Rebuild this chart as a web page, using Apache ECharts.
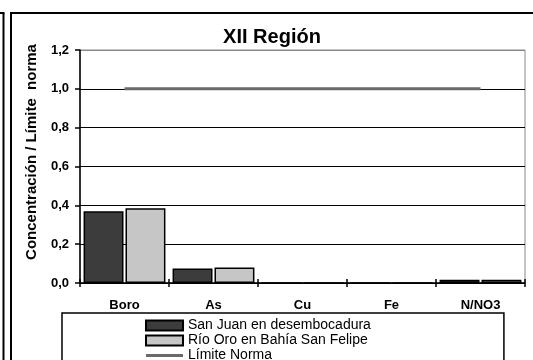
<!DOCTYPE html>
<html><head><meta charset="utf-8">
<script src="https://cdn.jsdelivr.net/npm/echarts@6/dist/echarts.min.js"></script>
<style>html,body{margin:0;padding:0;background:#fff}#c{width:533px;height:360px}</style>
</head><body><div id="c"></div>
<script>
const categories = ['Boro', 'As', 'Cu', 'Fe', 'N/NO3'];
const sanJuan = [0.37, 0.075, 0, 0, 0.017];
const rioOro = [0.385, 0.08, 0, 0, 0.017];
const limite = [1, 1, 1, 1, 1];
const seriesNames = ['San Juan en desembocadura', 'Río Oro en Bahía San Felipe', 'Límite Norma'];
const titleText = 'XII Región';
const yName = 'Concentración / Límite  norma';

const chart = echarts.init(document.getElementById('c'), null, {renderer: 'canvas'});
const F = 'Arial, "Liberation Sans", sans-serif';
chart.setOption({
  animation: false,
  backgroundColor: '#fff',
  title: {text: titleText, left: 267, textAlign: 'center', top: 22,
    textStyle: {fontFamily: F, fontSize: 20, fontWeight: 'bold', color: '#000'}},
  grid: {left: 80, right: 8, top: 50, bottom: 77, show: true, borderColor: '#888', borderWidth: 1},
  legend: {orient: 'vertical', left: 62, top: 313, height: 80, itemWidth: 37, itemHeight: 10, itemGap: 0,
    padding: [5, 133, 20, 83], borderColor: '#000', borderWidth: 1.5, backgroundColor: '#fff',
    textStyle: {fontFamily: F, fontSize: 14, color: '#000', lineHeight: 15},
    data: [
      {name: seriesNames[0], icon: 'rect'},
      {name: seriesNames[1], icon: 'rect'},
      {name: seriesNames[2], icon: 'path://M0,0 L37,0 L37,3 L0,3 Z'}
    ]},
  xAxis: [{type: 'category', data: categories,
    axisLine: {lineStyle: {color: '#000', width: 1.5}},
    axisTick: {show: true, length: 4, lineStyle: {color: '#000', width: 1.5}},
    axisLabel: {fontFamily: F, fontSize: 13, fontWeight: 'bold', color: '#000', margin: 16}},
    {type: 'category', data: categories, position: 'bottom',
    axisLine: {show: false}, axisLabel: {show: false},
    axisTick: {show: true, inside: true, length: 4, lineStyle: {color: '#000', width: 1.5}}}],
  yAxis: {type: 'value', min: 0, max: 1.2, interval: 0.2,
    axisLine: {show: true, lineStyle: {color: '#000', width: 1.5}},
    axisTick: {show: true, length: 5, lineStyle: {color: '#000', width: 1.5}},
    axisLabel: {fontFamily: F, fontSize: 13, fontWeight: 'bold', color: '#000', margin: 11,
      formatter: v => v.toFixed(1).replace('.', ',')},
    splitLine: {show: true, lineStyle: {color: ['#000','#000','#000','#000','#000','#000','#888'], width: 1}}},
  series: [
    {name: seriesNames[0], type: 'bar', data: sanJuan, barCategoryGap: '8%', barGap: '5%',
      itemStyle: {color: '#3c3c3c', borderColor: '#000', borderWidth: 1.5}},
    {name: seriesNames[1], type: 'bar', data: rioOro,
      itemStyle: {color: '#c6c6c6', borderColor: '#000', borderWidth: 1.5}},
    {name: seriesNames[2], type: 'line', data: limite, symbol: 'none', showSymbol: false,
      lineStyle: {color: '#6a6a6a', width: 3}, itemStyle: {color: '#6a6a6a'}, z: 5}
  ],
  graphic: [
    {type: 'rect', shape: {x: 11, y: 13, width: 700, height: 500}, style: {fill: null, stroke: '#000', lineWidth: 2}, silent: true, z: -1},
    {type: 'line', shape: {x1: 3.5, y1: 13, x2: 3.5, y2: 400}, style: {stroke: '#000', lineWidth: 2}},
    {type: 'line', shape: {x1: 0, y1: 13, x2: 4.5, y2: 13}, style: {stroke: '#000', lineWidth: 2}},
    {type: 'text', x: 32, y: 152, rotation: Math.PI / 2,
      style: {text: yName, font: 'bold 15px ' + F, fill: '#000', textAlign: 'center', textVerticalAlign: 'middle'}}
  ]
});
</script></body></html>
